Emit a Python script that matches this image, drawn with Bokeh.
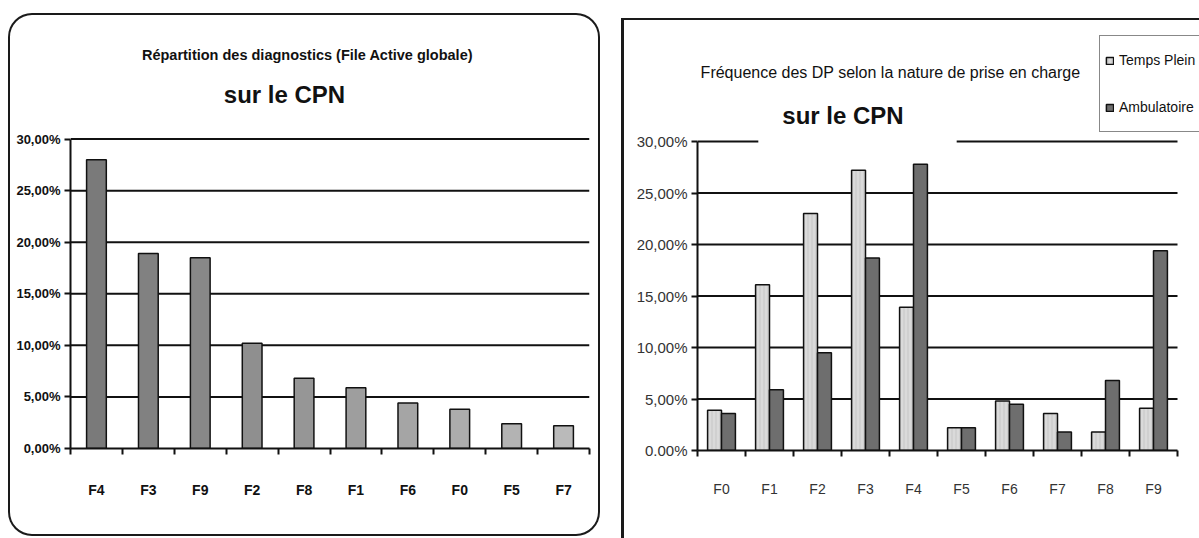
from bokeh.plotting import figure
from bokeh.models import (Range1d, FixedTicker, LinearAxis, Label, Legend,
                          LegendItem, ColumnDataSource)
from bokeh.layouts import row
from bokeh.embed import file_html
from bokeh.resources import INLINE

# ---------------- data ----------------
left_categories = ["F4", "F3", "F9", "F2", "F8", "F1", "F6", "F0", "F5", "F7"]
left_values = [28.0, 18.9, 18.5, 10.2, 6.8, 5.9, 4.4, 3.8, 2.4, 2.2]

right_categories = ["F0", "F1", "F2", "F3", "F4", "F5", "F6", "F7", "F8", "F9"]
temps_plein = [3.9, 16.1, 23.0, 27.2, 13.9, 2.2, 4.8, 3.6, 1.8, 4.1]
ambulatoire = [3.6, 5.9, 9.5, 18.7, 27.8, 2.2, 4.5, 1.8, 6.8, 19.4]
series_names = ["Temps Plein", "Ambulatoire"]

y_ticks = [0, 5, 10, 15, 20, 25, 30]
left_y_labels = ["0,00%", "5,00%", "10,00%", "15,00%", "20,00%", "25,00%", "30,00%"]
right_y_labels = ["0.00%", "5,00%", "10,00%", "15,00%", "20,00%", "25,00%", "30,00%"]

left_title = "Répartition des diagnostics (File Active globale)"
right_title = "Fréquence des DP selon la nature de prise en charge"
subtitle = "sur le CPN"

SANS = "Liberation Sans"
INK = "#111111"


def lerp_hex(c1, c2, t):
    a = [int(c1[i:i + 2], 16) for i in (1, 3, 5)]
    b = [int(c2[i:i + 2], 16) for i in (1, 3, 5)]
    return "#" + "".join("%02x" % round(a[k] + (b[k] - a[k]) * t) for k in range(3))


def make_fig(w, h, bl, br, bb, n, x_end, y_end, labels, label_color, label_style,
             xlabels, xsize, ysize, xstandoff, ystandoff):
    # the frame reaches the top of the canvas so that titles and legend are not clipped
    p = figure(width=w, height=h, x_range=Range1d(0, x_end), y_range=Range1d(0, y_end),
               output_backend="svg", toolbar_location=None,
               x_axis_type=None, y_axis_type=None,
               min_border_left=bl, min_border_right=br,
               min_border_top=0, min_border_bottom=bb)
    p.background_fill_alpha = 0
    p.border_fill_alpha = 0
    p.outline_line_color = None

    # horizontal gridlines over the category extent
    gsrc = ColumnDataSource(dict(y=y_ticks[1:], x0=[0] * (len(y_ticks) - 1),
                                 x1=[n] * (len(y_ticks) - 1)))
    p.segment(x0="x0", x1="x1", y0="y", y1="y", source=gsrc,
              line_color=INK, line_width=2)

    yaxis = LinearAxis(ticker=FixedTicker(ticks=y_ticks), bounds=(0, 30),
                       major_label_overrides=dict(zip(y_ticks, labels)),
                       axis_line_width=2, axis_line_color=INK,
                       major_tick_out=6, major_tick_in=0,
                       major_tick_line_width=2, major_tick_line_color=INK,
                       minor_tick_out=0, minor_tick_in=0,
                       major_label_standoff=ystandoff,
                       major_label_text_font=SANS,
                       major_label_text_font_size=ysize,
                       major_label_text_font_style=label_style,
                       major_label_text_color=label_color)
    p.add_layout(yaxis, "left")

    centers = [i + 0.5 for i in range(n)]
    bounds = list(range(n + 1))
    xaxis = LinearAxis(ticker=FixedTicker(ticks=centers, minor_ticks=bounds),
                       bounds=(0, n),
                       major_label_overrides=dict(zip(centers, xlabels)),
                       axis_line_width=2, axis_line_color=INK,
                       major_tick_out=0, major_tick_in=0,
                       minor_tick_out=6, minor_tick_in=0,
                       minor_tick_line_width=2, minor_tick_line_color=INK,
                       major_label_standoff=xstandoff,
                       major_label_text_font=SANS,
                       major_label_text_font_size=xsize,
                       major_label_text_font_style=label_style,
                       major_label_text_color=label_color)
    p.add_layout(xaxis, "below")
    return p


# ---------------- left chart ----------------
nL = len(left_categories)
left = make_fig(592, 523, 62, 11, 83, nL, nL, 30 * 440 / 313, left_y_labels,
                INK, "bold", left_categories, "14px", "13px", 27, 4)
left.margin = (13, 0, 0, 8)
left.styles = {"box-shadow": "inset 0 0 0 2px #1a1a1a", "border-radius": "24px"}

left_colors = [lerp_hex("#7a7a7a", "#bababa", i / (nL - 1)) for i in range(nL)]
lsrc = ColumnDataSource(dict(x=[i + 0.5 for i in range(nL)],
                             top=left_values, cat=left_categories, color=left_colors))
left.vbar(x="x", top="top", width=0.38, source=lsrc, fill_color="color",
          line_color=INK, line_width=1.5)

left.add_layout(Label(x=237, y=394, x_units="screen", y_units="screen",
                      text=left_title, text_font=SANS, text_font_style="bold",
                      text_font_size="14.5px", text_align="center",
                      text_baseline="middle", text_color=INK))
left.add_layout(Label(x=214, y=354, x_units="screen", y_units="screen",
                      text=subtitle, text_font=SANS, text_font_style="bold",
                      text_font_size="24px", text_align="center",
                      text_baseline="middle", text_color=INK))

# ---------------- right chart ----------------
nR = len(right_categories)
right = make_fig(578, 520, 76, 0, 88, nR, nR * 502 / 480, 30 * 432 / 309,
                 right_y_labels, "#333333", "normal", right_categories,
                 "14px", "15px", 24, 4)
right.margin = (18, 0, 0, 21)
right.styles = {"box-shadow": "inset 3px 2px 0 0 #1a1a1a"}

bw = 0.29
rsrc = ColumnDataSource(dict(
    x_tp=[i + 0.5 - bw / 2 for i in range(nR)],
    x_amb=[i + 0.5 + bw / 2 for i in range(nR)],
    tp=temps_plein, amb=ambulatoire, cat=right_categories))
r_tp = right.vbar(x="x_tp", top="tp", width=bw, source=rsrc,
                  fill_color="#dadada", line_color=INK, line_width=1.5,
                  hatch_pattern="|", hatch_color="#b8b8b8", hatch_scale=4,
                  hatch_weight=0.6)
r_amb = right.vbar(x="x_amb", top="amb", width=bw, source=rsrc,
                   fill_color="#6e6e6e", line_color=INK, line_width=1.5)

right.add_layout(Label(x=193, y=378, x_units="screen", y_units="screen",
                       text=right_title, text_font=SANS,
                       text_font_size="16px", text_align="center",
                       text_baseline="middle", text_color=INK))
# white title box that interrupts the top gridline, as in the original
right.add_layout(Label(x=160, y=329, x_units="screen", y_units="screen",
                       text=subtitle, text_font=SANS, text_font_style="bold",
                       text_font_size="24px", text_align="center",
                       text_baseline="middle", text_color=INK,
                       background_fill_color="white",
                       padding=(24, 53, 4, 17)))

legend = Legend(items=[LegendItem(label=series_names[0], renderers=[r_tp]),
                       LegendItem(label=series_names[1], renderers=[r_amb])],
                location=(402, 318), orientation="vertical",
                border_line_color=INK, border_line_width=1.5,
                background_fill_color="white", background_fill_alpha=1,
                label_text_font=SANS, label_text_font_size="14px",
                label_text_color=INK,
                glyph_width=9, glyph_height=9, label_standoff=5,
                padding=5, spacing=9, label_height=38, margin=0)
right.add_layout(legend)

layout = row(left, right, spacing=0)
open("out.html", "w").write(file_html(layout, INLINE))
